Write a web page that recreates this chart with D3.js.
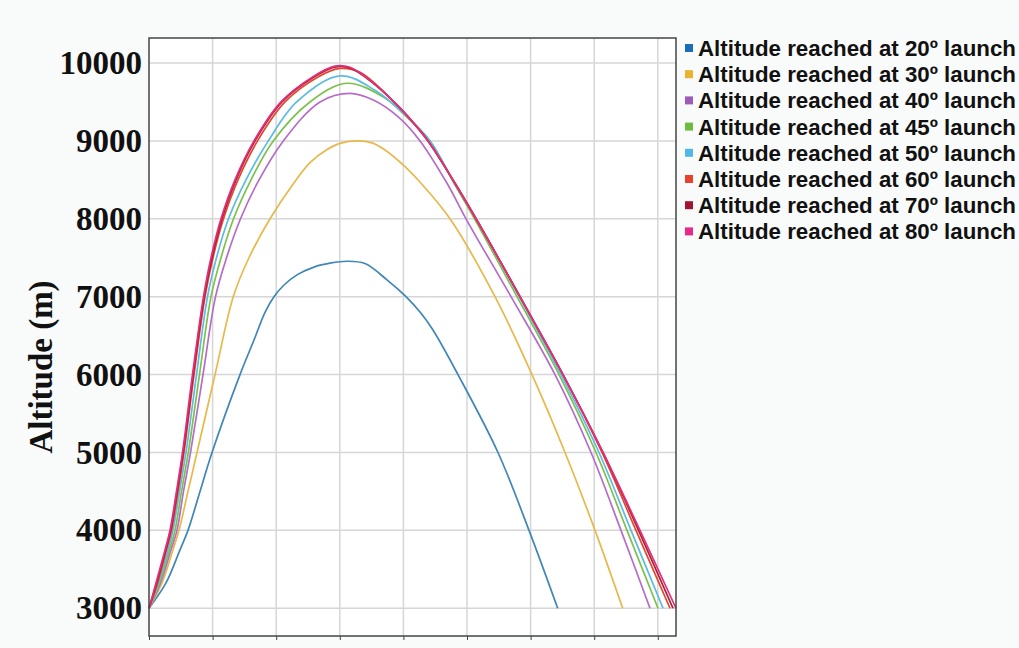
<!DOCTYPE html>
<html>
<head>
<meta charset="utf-8">
<script src="https://d3js.org/d3.v7.min.js"></script>
<style>
body { margin:0; background:#f9fafa; }
.tick-label { font-family:"Liberation Serif","Times New Roman",serif; font-weight:bold; font-size:33px; fill:#111; }
.legend-text { font-family:"Liberation Sans",Arial,sans-serif; font-weight:bold; font-size:22.3px; fill:#111; }
</style>
</head>
<body>
<svg id="chart" width="1019" height="648"></svg>
<script>
// time (s) / altitude (m) pairs
var angles = ['20', '30', '40', '45', '50', '60', '70', '80'];
var seriesColors = ['#3f86b9', '#e8b84a', '#b56cc9', '#7cc14b', '#5bbbe3', '#e2462c', '#ad1d3c', '#e2307c'];
var legendColors = ['#1b6db5', '#eab22e', '#9b5bb8', '#6cbd3e', '#4fb8e6', '#e8412c', '#a0152f', '#e8288c'];

var alt20 = [[0,3000],[2.67,3325],[4.87,3750],[6.13,4000],[8.02,4500],[9.91,5000],[14.31,6000],[16.51,6444],[18.24,6800],[19.65,7000],[21.23,7150],[23.27,7280],[25.94,7380],[28.46,7430],[31.13,7455],[33.96,7425],[37.42,7216],[40.41,7000],[42.77,6787],[44.65,6572],[48.58,6000],[54.87,5000],[59.75,4000],[64.26,3000]];
var alt30 = [[0,3000],[2.04,3325],[3.77,3750],[4.72,4000],[6.13,4500],[7.55,5000],[10.38,6000],[13.25,7000],[15.72,7500],[19.03,8000],[22.69,8450],[25.31,8720],[27.94,8886],[30.03,8969],[32.86,9000],[35.06,8975],[37.11,8883],[40.25,8669],[42.77,8456],[47.33,8000],[54.4,7000],[60.22,6000],[65.41,5000],[70.13,4000],[74.48,3000]];
var alt40 = [[0,3000],[1.81,3325],[3.46,3750],[4.4,4000],[5.42,4500],[6.53,5000],[8.49,6000],[10.46,7000],[12.19,7500],[14.39,8000],[17.3,8500],[21.12,9000],[26.89,9500],[31.6,9610],[35.27,9525],[39.15,9311],[42.61,9000],[46.86,8456],[49.84,8000],[56.92,7000],[63.84,6000],[69.5,5000],[74.21,4000],[78.77,3000]];
var alt45 = [[0,3000],[1.65,3325],[3.22,3750],[4.09,4000],[5.11,4500],[6.18,5000],[7.94,6000],[9.75,7000],[11.32,7500],[13.29,8000],[16.04,8500],[19.54,9000],[25.31,9500],[31.13,9740],[37.11,9550],[40.09,9340],[44.18,9000],[47.96,8456],[51.18,8000],[57.86,7000],[64.47,6000],[70.28,5000],[75.16,4000],[80.03,3000]];
var alt50 = [[0,3000],[1.49,3325],[2.99,3750],[3.77,4000],[4.8,4500],[5.82,5000],[7.47,6000],[9.2,7000],[10.61,7500],[12.5,8000],[15.25,8500],[18.76,9000],[23.22,9500],[30.03,9835],[35.53,9650],[39.78,9370],[44.18,9000],[48.03,8456],[51.42,8000],[58.18,7000],[64.78,6000],[70.75,5000],[75.79,4000],[80.82,3000]];
var alt60 = [[0,3000],[1.34,3325],[2.75,3750],[3.54,4000],[4.56,4500],[5.5,5000],[7.08,6000],[8.81,7000],[10.06,7500],[11.71,8000],[13.99,8500],[17.06,9000],[21.38,9500],[26.57,9820],[30.03,9930],[33.18,9880],[38.52,9500],[40.72,9311],[43.87,9000],[48.11,8456],[51.42,8000],[58.33,7000],[65.09,6000],[71.23,5000],[76.57,4000],[81.92,3000]];
var alt70 = [[0,3000],[1.21,3325],[2.63,3750],[3.41,4000],[4.43,4500],[5.38,5000],[6.95,6000],[8.68,7000],[9.91,7500],[11.48,8000],[13.68,8500],[16.67,9000],[20.91,9500],[25.94,9820],[29.4,9950],[31.6,9935],[35.27,9740],[38.52,9500],[40.72,9311],[43.87,9000],[48.11,8456],[51.42,8000],[58.33,7000],[65.09,6000],[71.38,5000],[76.97,4000],[82.39,3000]];
var alt80 = [[0,3000],[1.1,3325],[2.52,3750],[3.3,4000],[4.32,4500],[5.27,5000],[6.84,6000],[8.57,7000],[9.75,7500],[11.32,8000],[13.52,8500],[16.51,9000],[20.75,9500],[25.79,9825],[29.25,9960],[31.6,9945],[35.27,9745],[38.52,9500],[40.72,9311],[43.87,9000],[48.11,8456],[51.42,8000],[58.33,7000],[65.09,6000],[71.38,5000],[77.2,4000],[82.86,3000]];
var allSeries = [alt20, alt30, alt40, alt45, alt50, alt60, alt70, alt80];

var yTicks = [3000, 4000, 5000, 6000, 7000, 8000, 9000, 10000];
var xTicks = [0, 10, 20, 30, 40, 50, 60, 70, 80];

var plotLeft = 149, plotRight = 676, plotTop = 38, plotBottom = 636;

var svg = d3.select('#chart');

var xScale = d3.scaleLinear().domain([0, 82.86]).range([plotLeft, plotRight]);
var yScale = d3.scaleLinear().domain([2644, 10321]).range([plotBottom, plotTop]);

svg.append('rect')
	.attr('x', plotLeft).attr('y', plotTop)
	.attr('width', plotRight-plotLeft).attr('height', plotBottom-plotTop)
	.attr('fill', '#ffffff');

// grid
svg.append('g').selectAll('line')
	.data(yTicks).enter()
	.append('line')
	.attr('x1', plotLeft).attr('x2', plotRight)
	.attr('y1', function(d){ return yScale(d);})
	.attr('y2', function(d){ return yScale(d);})
	.attr('stroke', '#d6d6d6').attr('stroke-width', 1.5);
svg.append('g').selectAll('line')
	.data(xTicks.slice(1)).enter()
	.append('line')
	.attr('y1', plotTop).attr('y2', plotBottom)
	.attr('x1', function(d){ return xScale(d);})
	.attr('x2', function(d){ return xScale(d);})
	.attr('stroke', '#d6d6d6').attr('stroke-width', 1.5);

// curves
var line = d3.line()
	.x(function(d){ return xScale(d[0]);})
	.y(function(d){ return yScale(d[1]);})
	.curve(d3.curveCatmullRom.alpha(0.5));

svg.append('g').selectAll('path')
	.data(allSeries).enter()
	.append('path')
	.attr('d', line)
	.attr('fill', 'none')
	.attr('stroke', function(d, i){ return seriesColors[i];})
	.attr('stroke-width', 1.7);

// frame
svg.append('rect')
	.attr('x', plotLeft).attr('y', plotTop)
	.attr('width', plotRight-plotLeft).attr('height', plotBottom-plotTop)
	.attr('fill', 'none')
	.attr('stroke', '#444').attr('stroke-width', 1.5);

// x axis ticks only
var xAxis = d3.axisBottom(xScale).tickValues(xTicks).tickSize(4).tickFormat('');
svg.append('g')
	.attr('transform', 'translate(0,' + plotBottom + ')')
	.call(xAxis)
	.call(function(g){ g.select('.domain').remove(); g.selectAll('line').attr('stroke', '#444');});

// y axis labels
var yAxis = d3.axisLeft(yScale).tickValues(yTicks).tickSize(0).tickPadding(7).tickFormat(d3.format('d'));
svg.append('g')
	.attr('transform', 'translate(' + plotLeft + ',0)')
	.call(yAxis)
	.call(function(g){
		g.select('.domain').remove();
		g.selectAll('text').attr('class', 'tick-label').attr('font-size', null).attr('font-family', null);
	});

svg.append('text')
	.attr('class', 'tick-label')
	.attr('transform', 'translate(52,367) rotate(-90)')
	.attr('text-anchor', 'middle')
	.text('Altitude (m)');

// legend
var legend = svg.append('g').selectAll('g')
	.data(angles).enter()
	.append('g')
	.attr('transform', function(d, i){ return 'translate(685,' + (48 + i*26.2) + ')';});
legend.append('rect')
	.attr('x', 0).attr('y', -4)
	.attr('width', 8).attr('height', 8)
	.attr('fill', function(d, i){ return legendColors[i];});
legend.append('text')
	.attr('class', 'legend-text')
	.attr('x', 13).attr('y', 8)
	.text(function(d){ return 'Altitude reached at ' + d + 'º launch';});
</script>
</body>
</html>
